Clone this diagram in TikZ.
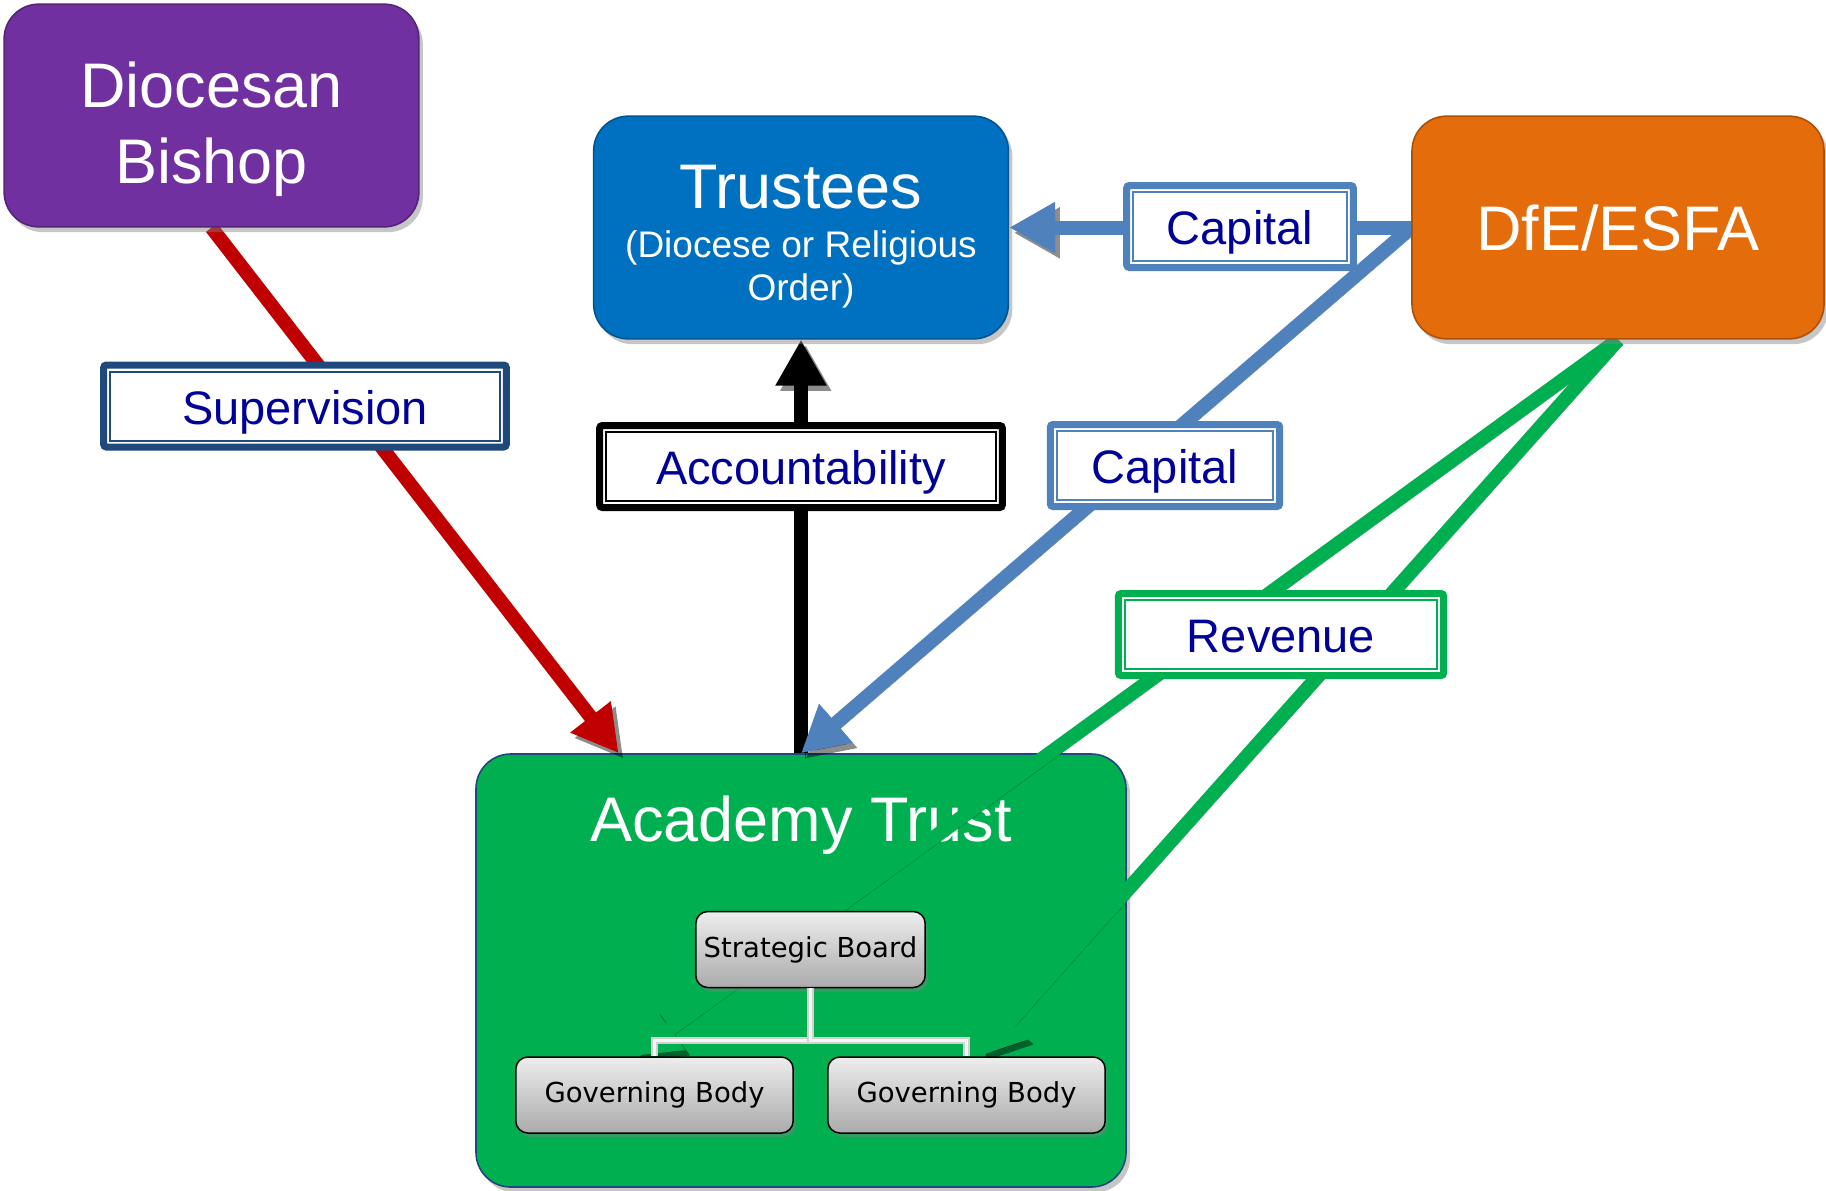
\documentclass[tikz,border=0pt]{standalone}
\usepackage{fontspec}
\setmainfont{Liberation Sans}
\newfontfamily\orgfont{DejaVu Sans}
\usetikzlibrary{arrows.meta,calc,shadows,positioning}
\pgfdeclarelayer{background}
\pgfsetlayers{background,main}

\definecolor{bishoppurple}{HTML}{7030A0}
\definecolor{trusteeblue}{HTML}{0070C0}
\definecolor{dfeorange}{HTML}{E46C0A}
\definecolor{academygreen}{HTML}{00B050}
\definecolor{supervisionred}{HTML}{C00000}
\definecolor{capitalblue}{HTML}{4F81BD}
\definecolor{tagtext}{HTML}{000099}
\definecolor{tagnavy}{HTML}{1F497D}

\tikzset{
  bigbox/.style={rectangle, rounded corners=26pt, fill=#1, draw=#1!75!black, line width=1.2pt, text=white,
    minimum width=311pt, minimum height=167pt, align=center, font=\fontsize{47.25}{57}\selectfont,
    drop shadow={shadow xshift=3pt, shadow yshift=-4pt, opacity=.45}},
  orgbox/.style={rectangle, rounded corners=9pt, draw=black, line width=1.1pt, top color=black!7, bottom color=black!33,
    minimum width=172pt, minimum height=57pt, font=\orgfont\fontsize{20.6}{24}\selectfont,
    drop shadow={shadow xshift=2pt, shadow yshift=-3pt, opacity=.4}},
  tag/.style={rectangle, rounded corners=2pt, draw=#1, line width=5.25pt, fill=white, text=tagtext,
    minimum height=61.5pt, inner sep=0pt, text height=27pt, text depth=0pt, font=\fontsize{35.25}{42}\selectfont},
  flow/.style={line width=10.5pt, draw=#1, -{Triangle[length=34.5pt,width=36pt]},
    preaction={draw=black, opacity=.45, transform canvas={xshift=3.5pt,yshift=-4pt}}},
  orgline/.style={draw=black!18, double=black!4, line width=1.3pt, double distance=2.4pt},
}

\begin{document}
\begin{tikzpicture}[x=0.75pt,y=0.75pt,yscale=-1,xscale=1]
\useasboundingbox (0,0) rectangle (1826,1190);
% Academy Trust sits at the back
\begin{pgfonlayer}{background}
\node [bigbox=academygreen, draw=tagnavy, minimum width=487.5pt, minimum height=324.75pt] (academy) at (801,970.5) {};
\node [text=white, font=\fontsize{47.25}{57}\selectfont, anchor=base] (academytitle) at ($(academy.north)+(0,88)$) {Academy Trust};
\end{pgfonlayer}

% top row
\node [bigbox=bishoppurple, text height=102pt, text depth=0pt] (bishop) at (211.5,115.5) {Diocesan\\Bishop};
\node [bigbox=trusteeblue, font=\fontsize{27.75}{32.5}\selectfont, text height=109.5pt, text depth=0pt] (trustees) at (801,227.5)
  {{\fontsize{47.25}{57}\selectfont Trustees}\\[4pt](Diocese or Religious\\Order)};
\node [bigbox=dfeorange, minimum width=309pt, text height=33.8pt, text depth=0pt] (dfe) at (1618,227.5) {DfE/ESFA};

% inside the trust
\node [orgbox] (board) at (810.5,949.5) {Strategic Board};
\node [orgbox, minimum width=208pt] (govleft) at (654.5,1095) {Governing Body};
\node [orgbox, minimum width=208pt] (govright) at (966.5,1095) {Governing Body};
\draw [orgline] (board.south) -- ++(0,52) -| (govleft.north);
\draw [orgline] (board.south) -- ++(0,52) -| (govright.north);

% arrows, kept under the boxes
\begin{pgfonlayer}{background}
\draw [flow=supervisionred] (bishop.south) -- (academy.130);
\draw [flow=black] (academy.north) -- (trustees.south);
\draw [flow=capitalblue] (dfe.west) -- (trustees.east);
\draw [flow=capitalblue] (dfe.west) -- (academy.north);
\draw [flow=academygreen] (dfe.south) -- (govleft.119);
\draw [flow=academygreen] (dfe.south) -- (govright.72);
\end{pgfonlayer}

% labels
\node [tag=tagnavy, minimum width=302pt] (supervision) at (305,406) {Supervision};
\node [tag=black, minimum width=302pt] (accountability) at (801,466.5) {Accountability};
\node [tag=capitalblue, minimum width=170pt] (capitaltop) at (1240,226.5) {Capital};
\node [tag=capitalblue, minimum width=172pt] (capitalmid) at (1165,465.5) {Capital};
\node [tag=academygreen, minimum width=244pt] (revenue) at (1281,634.5) {Revenue};
\foreach \t/\c in {supervision/tagnavy, accountability/black, capitaltop/capitalblue, capitalmid/capitalblue, revenue/academygreen}
  \draw [\c, line width=1.5pt] ($(\t.north west)+(10,10)$) rectangle ($(\t.south east)+(-10,-10)$);
\end{tikzpicture}
\end{document}
